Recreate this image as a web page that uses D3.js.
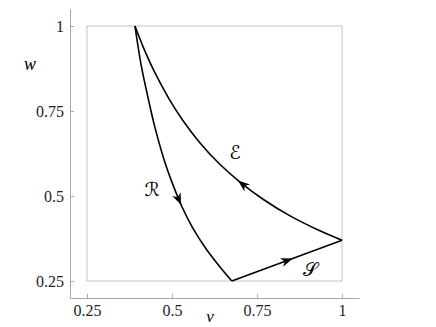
<!DOCTYPE html>
<html>
<head>
<meta charset="utf-8">
<script src="https://cdn.jsdelivr.net/npm/d3@7"></script>
<style>
  body { margin: 0; background: #fff; }
</style>
</head>
<body>
<div id="chart"></div>
<script>
// curve R (going down)
var rV = [0.391, 0.41, 0.43, 0.45, 0.48, 0.50, 0.53, 0.56, 0.60, 0.64, 0.676];
var rW = [1.0, 0.881, 0.787, 0.701, 0.596, 0.54, 0.467, 0.408, 0.345, 0.293, 0.25];
// curve S (straight segment)
var sV = [0.676, 1.0];
var sW = [0.25, 0.37];
// curve E (going back up)
var eV = [1.0, 0.93, 0.85, 0.77, 0.70, 0.64, 0.58, 0.53, 0.49, 0.45, 0.42, 0.391];
var eW = [0.37, 0.40, 0.44, 0.489, 0.541, 0.594, 0.659, 0.725, 0.788, 0.862, 0.927, 1.0];
// where the arrow heads sit (v value)
var arrowAt = { R: 0.527, S: 0.855, E: 0.694 };
var xTicks = [0.25, 0.5, 0.75, 1];
var yTicks = [0.25, 0.5, 0.75, 1];

var width = 436, height = 327;
var serif = "'Liberation Serif', serif";

var svg = d3.select("#chart").append("svg")
    .attr("width", width)
    .attr("height", height);

var x = d3.scaleLinear().domain([0.2, 1.05]).range([70, 359]);
var y = d3.scaleLinear().domain([0.2, 1.05]).range([298, 9]);

// frame box
svg.append("rect")
    .attr("x", x(0.25))
    .attr("y", y(1))
    .attr("width", x(1) - x(0.25))
    .attr("height", y(0.25) - y(1))
    .attr("fill", "none")
    .attr("stroke", "#c4c4c4")
    .attr("stroke-width", 1);

var fmt = function (d) { return String(d); };

var xAxis = svg.append("g")
    .attr("transform", "translate(0," + y(0.2) + ")")
    .call(d3.axisBottom(x).tickValues(xTicks).tickFormat(fmt).tickSizeInner(-4).tickSizeOuter(0).tickPadding(7));

var yAxis = svg.append("g")
    .attr("transform", "translate(" + x(0.2) + ",0)")
    .call(d3.axisLeft(y).tickValues(yTicks).tickFormat(fmt).tickSizeInner(-4).tickSizeOuter(0).tickPadding(6));

[xAxis, yAxis].forEach(function (a) {
    a.attr("font-family", serif).attr("font-size", 16);
    a.select(".domain").attr("stroke", "#a8a8a8");
    a.selectAll(".tick line").attr("stroke", "#a8a8a8");
    a.selectAll(".tick text").attr("fill", "#222");
});

// axis labels
svg.append("text")
    .attr("x", 30).attr("y", 70)
    .attr("text-anchor", "middle")
    .attr("font-family", serif)
    .attr("font-style", "italic")
    .attr("font-size", 18)
    .text("w");

svg.append("text")
    .attr("x", 210).attr("y", 322)
    .attr("text-anchor", "middle")
    .attr("font-family", serif)
    .attr("font-style", "italic")
    .attr("font-size", 17)
    .text("v");

var line = d3.line()
    .x(function (d) { return x(d[0]); })
    .y(function (d) { return y(d[1]); })
    .curve(d3.curveCatmullRom.alpha(0.5));

var straight = d3.line()
    .x(function (d) { return x(d[0]); })
    .y(function (d) { return y(d[1]); });

function drawCurve(vs, ws, gen, at) {
    var pts = vs.map(function (v, i) { return [v, ws[i]]; });
    var p = svg.append("path")
        .attr("d", gen(pts))
        .attr("fill", "none")
        .attr("stroke", "#000")
        .attr("stroke-width", 1.6)
        .attr("stroke-linejoin", "round");

    // find arrow point on the path
    var node = p.node();
    var total = node.getTotalLength();
    var target = x(at), best = 0, bestD = 1e9;
    for (var l = 0; l <= total; l += 0.5) {
        var q = node.getPointAtLength(l);
        if (Math.abs(q.x - target) < bestD) { bestD = Math.abs(q.x - target); best = l; }
    }
    var a = node.getPointAtLength(best);
    var b = node.getPointAtLength(Math.max(0, best - 2));
    var ang = Math.atan2(a.y - b.y, a.x - b.x) * 180 / Math.PI;
    svg.append("path")
        .attr("d", "M0,0 L-12,-4.5 L-8.5,0 L-12,4.5 Z")
        .attr("fill", "#000")
        .attr("transform", "translate(" + a.x + "," + a.y + ") rotate(" + ang + ")");
}

drawCurve(rV, rW, line, arrowAt.R);
drawCurve(sV, sW, straight, arrowAt.S);
drawCurve(eV, eW, line, arrowAt.E);

// curve names
var names = [
    { t: "\u211B", x: 152, y: 196 },
    { t: "\u2130", x: 235, y: 159 },
    { t: "\uD835\uDCAE", x: 310, y: 276 }
];
svg.selectAll(".name")
    .data(names)
    .enter()
    .append("text")
    .attr("class", "name")
    .attr("x", function (d) { return d.x; })
    .attr("y", function (d) { return d.y; })
    .attr("text-anchor", "middle")
    .attr("font-family", "'DejaVu Sans', sans-serif")
    .attr("font-size", 19)
    .text(function (d) { return d.t; });
</script>
</body>
</html>
